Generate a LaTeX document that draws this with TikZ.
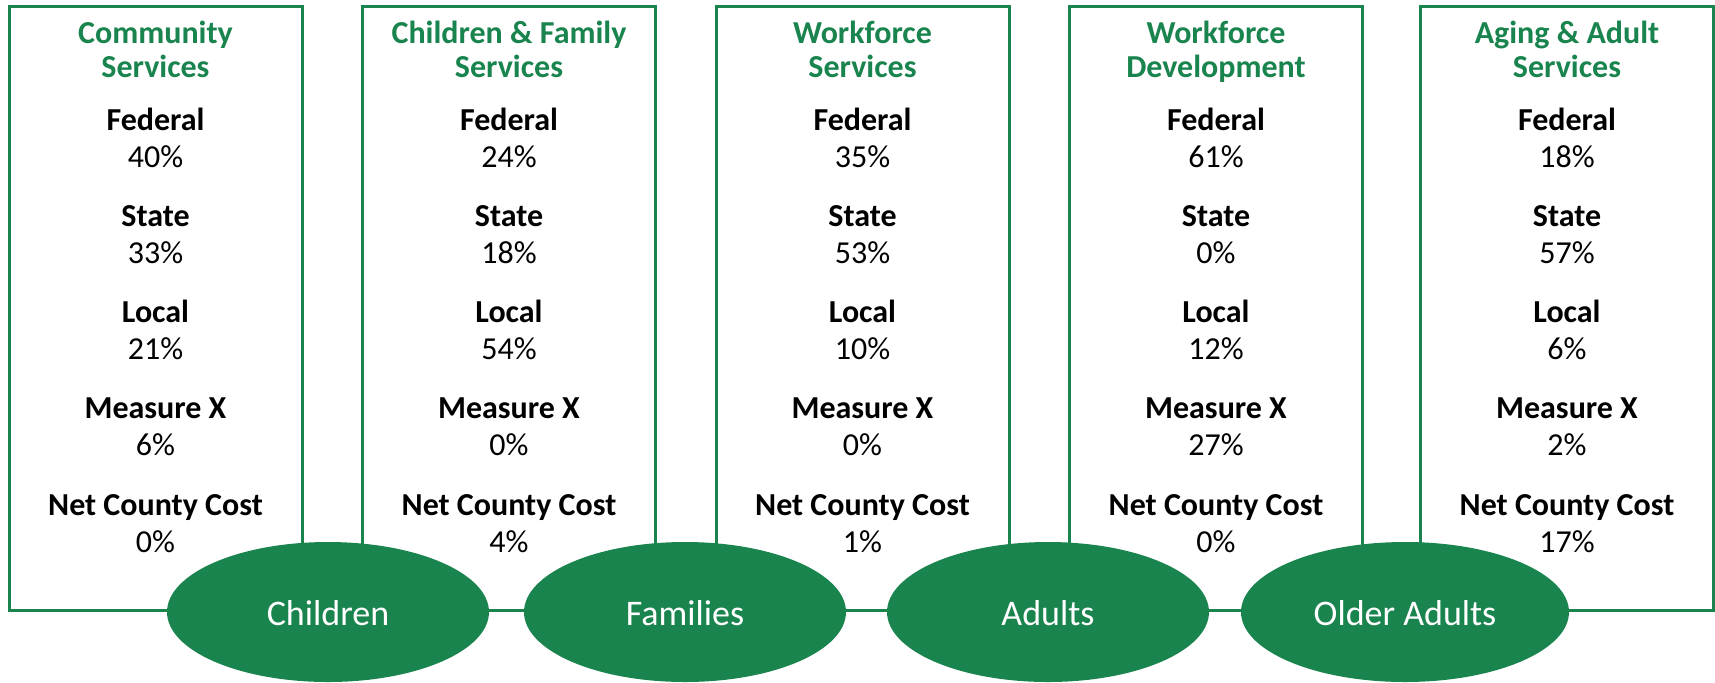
\documentclass[tikz,border=0pt]{standalone}
\usepackage{fontspec}
\setmainfont{Carlito}
\usetikzlibrary{positioning,shapes.geometric}
\definecolor{hsgreen}{RGB}{26,132,79}

\begin{document}
\begin{tikzpicture}[
		x=0.5pt, y=0.5pt,
		unit/.style={draw=hsgreen, line width=1.5pt, minimum width=146.5pt, minimum height=301.75pt, inner sep=0pt, outer sep=0pt},
		head/.style={text=hsgreen, font=\fontsize{16}{17}\selectfont\bfseries, align=center, inner sep=0pt, outer sep=0pt},
		body/.style={font=\fontsize{16}{18.5}\selectfont, align=center, inner sep=0pt, outer sep=0pt},
		group/.style={ellipse, fill=hsgreen, text=white, minimum width=161pt, minimum height=70pt, inner sep=0pt, text height=13.3pt, text depth=0pt, font=\fontsize{18}{21.6}\selectfont}
	]
		\useasboundingbox (0,0) rectangle (1715,-682);

		\node[unit] (cs) at (155.5,-308.25) {};
		\node[unit] (cfs) at (509,-308.25) {};
		\node[unit] (wfs) at (862.5,-308.25) {};
		\node[unit] (wfd) at (1216,-308.25) {};
		\node[unit] (aas) at (1567,-308.25) {};

		\node[head, below=6.35pt of cs.north] (cshead) {\strut Community\\Services};
		\node[head, below=6.35pt of cfs.north] (cfshead) {\strut Children \& Family\\Services};
		\node[head, below=6.35pt of wfs.north] (wfshead) {\strut Workforce\\Services};
		\node[head, below=6.35pt of wfd.north] (wfdhead) {\strut Workforce\\Development};
		\node[head, below=6.35pt of aas.north] (aashead) {\strut Aging \& Adult\\Services};

		\node[body, below=48.8pt of cs.north] (csfund) {\strut\textbf{Federal}\\40\%\\[11.15pt]\textbf{State}\\33\%\\[11.15pt]\textbf{Local}\\21\%\\[11.15pt]\textbf{Measure X}\\6\%\\[11.15pt]\textbf{Net County Cost}\\0\%};
		\node[body, below=48.8pt of cfs.north] (cfsfund) {\strut\textbf{Federal}\\24\%\\[11.15pt]\textbf{State}\\18\%\\[11.15pt]\textbf{Local}\\54\%\\[11.15pt]\textbf{Measure X}\\0\%\\[11.15pt]\textbf{Net County Cost}\\4\%};
		\node[body, below=48.8pt of wfs.north] (wfsfund) {\strut\textbf{Federal}\\35\%\\[11.15pt]\textbf{State}\\53\%\\[11.15pt]\textbf{Local}\\10\%\\[11.15pt]\textbf{Measure X}\\0\%\\[11.15pt]\textbf{Net County Cost}\\1\%};
		\node[body, below=48.8pt of wfd.north] (wfdfund) {\strut\textbf{Federal}\\61\%\\[11.15pt]\textbf{State}\\0\%\\[11.15pt]\textbf{Local}\\12\%\\[11.15pt]\textbf{Measure X}\\27\%\\[11.15pt]\textbf{Net County Cost}\\0\%};
		\node[body, below=48.8pt of aas.north] (aasfund) {\strut\textbf{Federal}\\18\%\\[11.15pt]\textbf{State}\\57\%\\[11.15pt]\textbf{Local}\\6\%\\[11.15pt]\textbf{Measure X}\\2\%\\[11.15pt]\textbf{Net County Cost}\\17\%};

		\node[group] (kids) at (328,-612) {Children};
		\node[group] (fam) at (685,-612) {Families};
		\node[group] (adults) at (1048,-612) {Adults};
		\node[group, minimum width=164pt] (elders) at (1405,-612) {Older Adults};
	\end{tikzpicture}
\end{document}
